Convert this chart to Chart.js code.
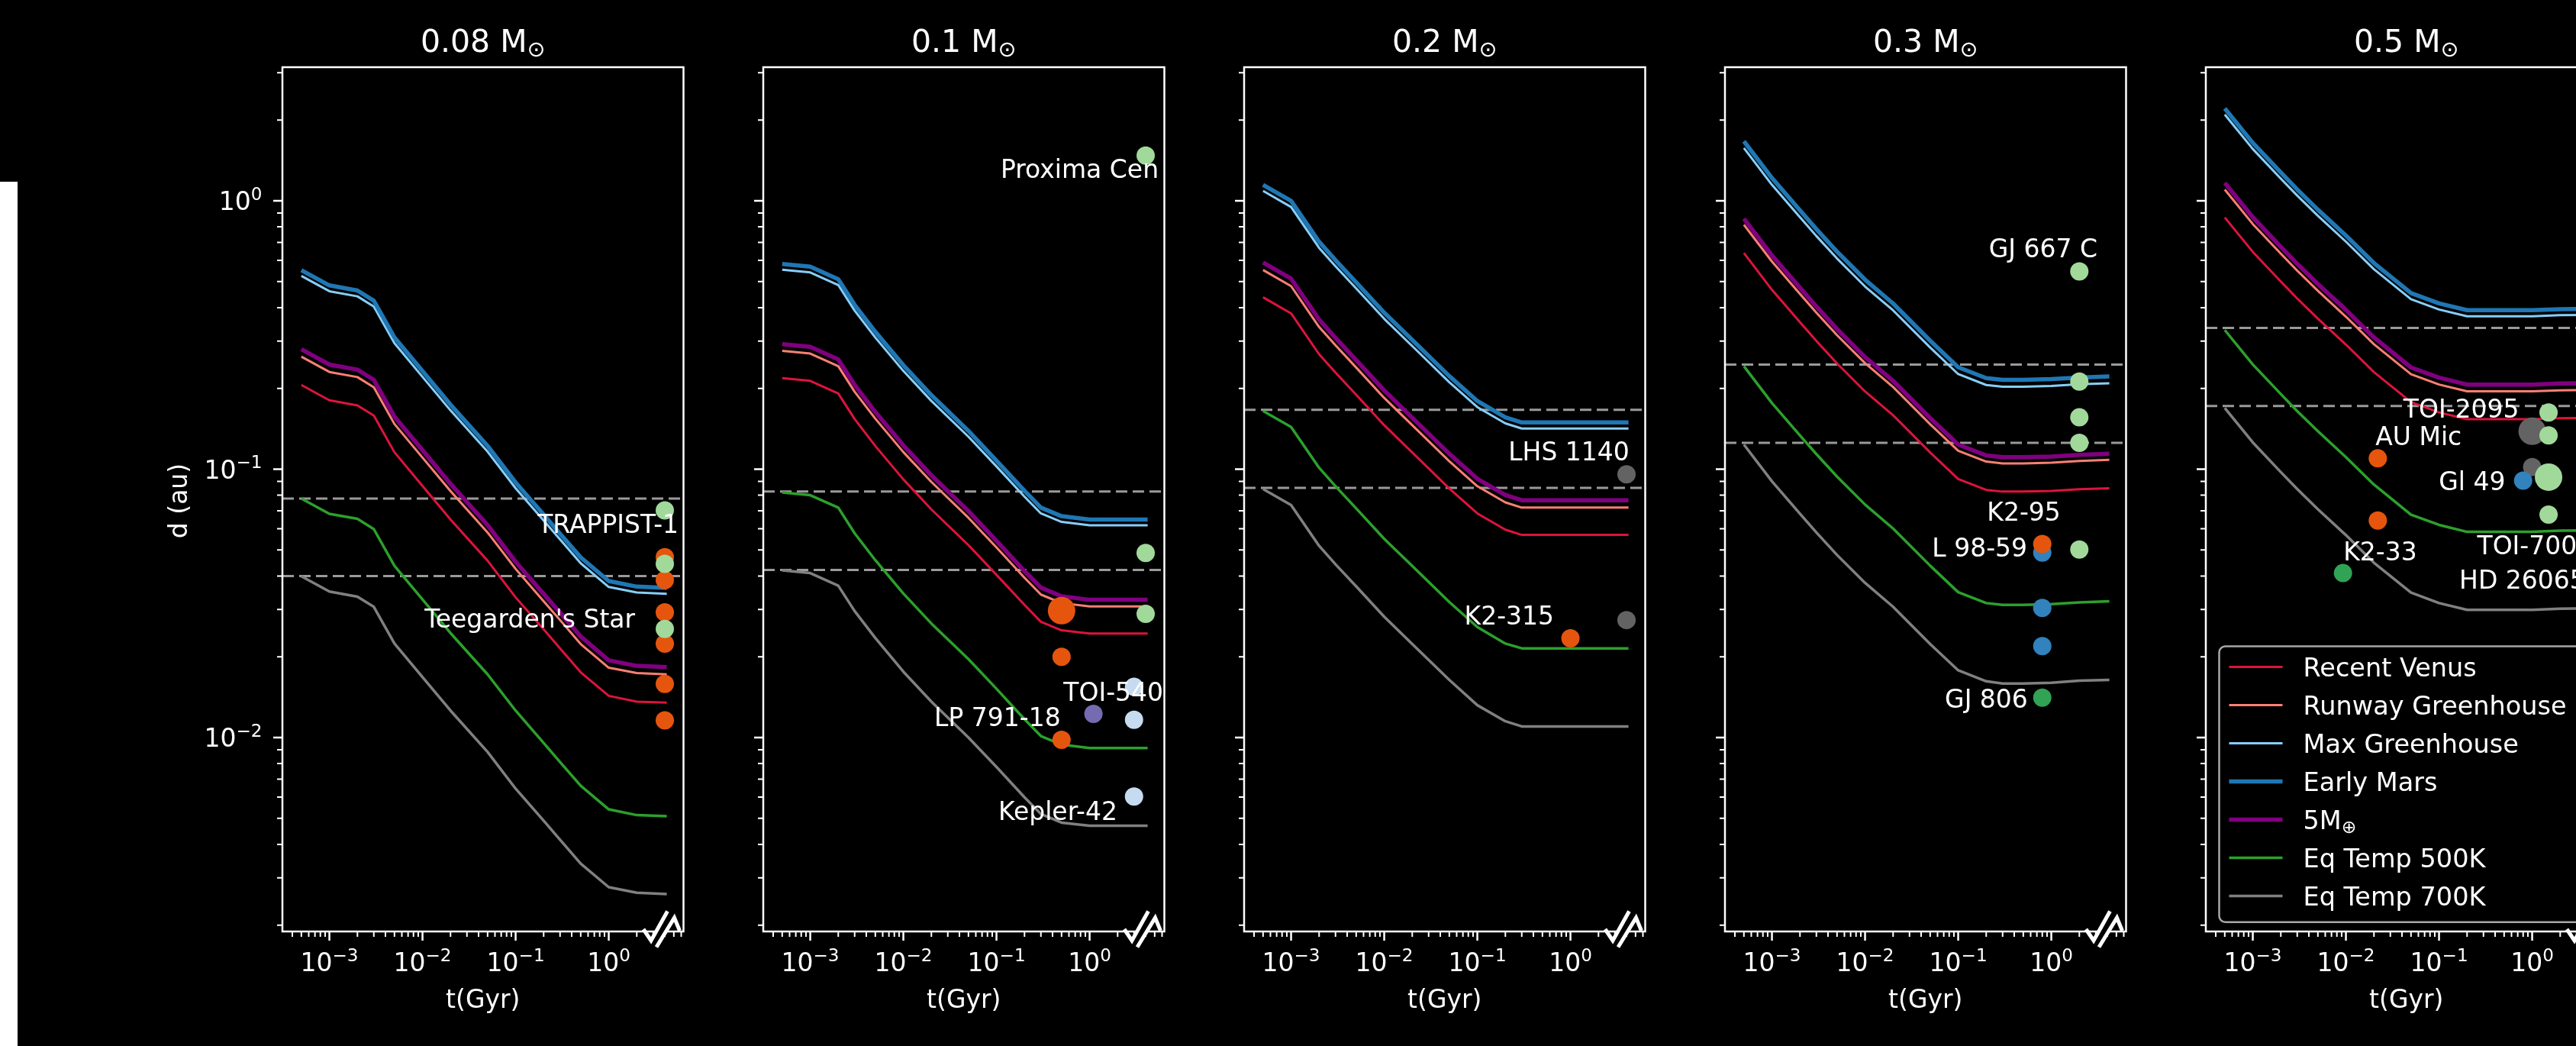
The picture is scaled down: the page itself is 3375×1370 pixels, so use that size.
<!DOCTYPE html>
<html>
<head>
<meta charset="utf-8">
<script src="https://cdn.jsdelivr.net/npm/chart.js@4.4.1/dist/chart.umd.min.js"></script>
<style>
  html, body { margin:0; padding:0; background:#000; }
  body { width:3375px; height:1370px; overflow:hidden; position:relative; }
  canvas { position:absolute; top:0; }
  #strip { position:absolute; left:0; top:238px; width:23px; height:1132px; background:#fff; }
</style>
</head>
<body>
<div id="strip"></div>
<script>
// ---------------- DATA ----------------
const TIME_GYR = [0.0005, 0.001, 0.002, 0.003, 0.005, 0.01, 0.02, 0.05, 0.1, 0.2, 0.3, 0.5, 1, 2, 4.2];
const X_TICKS = [0.001, 0.01, 0.1, 1];
const Y_TICKS = [0.01, 0.1, 1];
const PANEL_MASSES = ['0.08', '0.1', '0.2', '0.3', '0.5'];
const SERIES_LABELS = ['Recent Venus', 'Runway Greenhouse', 'Max Greenhouse', 'Early Mars', '5M\u2295', 'Eq Temp 500K', 'Eq Temp 700K'];

// 0.08 Msun
const m008_recentVenus   = [0.2059, 0.1806, 0.1729, 0.1584, 0.1156, 0.0866, 0.0649, 0.0456, 0.0333, 0.0253, 0.0215, 0.0175, 0.0143, 0.0136, 0.0135];
const m008_runaway       = [0.2625, 0.2303, 0.2204, 0.2019, 0.1473, 0.1104, 0.0828, 0.0581, 0.0425, 0.0322, 0.0274, 0.0223, 0.0182, 0.0174, 0.0172];
const m008_maxGreenhouse = [0.5249, 0.4604, 0.4406, 0.4036, 0.2946, 0.2207, 0.1655, 0.1162, 0.0849, 0.0644, 0.0547, 0.0446, 0.0364, 0.0347, 0.0343];
const m008_earlyMars     = [0.5516, 0.4839, 0.4631, 0.4242, 0.3096, 0.2320, 0.1739, 0.1221, 0.0892, 0.0677, 0.0575, 0.0469, 0.0383, 0.0365, 0.0361];
const m008_fiveME        = [0.2798, 0.2454, 0.2349, 0.2152, 0.1570, 0.1177, 0.0882, 0.0619, 0.0452, 0.0343, 0.0292, 0.0238, 0.0194, 0.0185, 0.0183];
const m008_teq500        = [0.0777, 0.0682, 0.0653, 0.0598, 0.0436, 0.0327, 0.0245, 0.0172, 0.0126, 0.00954, 0.00810, 0.00661, 0.00540, 0.00514, 0.00509];
const m008_teq700        = [0.0399, 0.0350, 0.0335, 0.0307, 0.0224, 0.0168, 0.0126, 0.00884, 0.00645, 0.00490, 0.00416, 0.00339, 0.00277, 0.00264, 0.00261];
const m008_dash = [0.0777, 0.0400];
const m008_ptT = [4, 4, 4, 4, 4, 4, 4, 4, 4];
const m008_ptD = [0.0470, 0.0386, 0.0293, 0.0224, 0.01585, 0.01158, 0.0702, 0.0444, 0.0254];
const m008_ptType = ['o', 'o', 'o', 'o', 'o', 'o', 'g', 'g', 'g'];
const m008_ptBig = [0, 0, 0, 0, 0, 0, 0, 0, 0];
const m008_lblText = ['TRAPPIST-1', "Teegarden's Star"];
const m008_lblT = [5.62, 1.92];
const m008_lblD = [0.0612, 0.0272];

// 0.1 Msun
const m01_recentVenus   = [0.2183, 0.2133, 0.1915, 0.1537, 0.1220, 0.0916, 0.0708, 0.0521, 0.0404, 0.0312, 0.0270, 0.0251, 0.0244, 0.0244, 0.0244];
const m01_runaway       = [0.2760, 0.2696, 0.2420, 0.1943, 0.1542, 0.1158, 0.0896, 0.0659, 0.0511, 0.0394, 0.0341, 0.0317, 0.0308, 0.0308, 0.0308];
const m01_maxGreenhouse = [0.5537, 0.5408, 0.4855, 0.3898, 0.3093, 0.2323, 0.1796, 0.1321, 0.1024, 0.0790, 0.0684, 0.0636, 0.0618, 0.0618, 0.0618];
const m01_earlyMars     = [0.5816, 0.5681, 0.5100, 0.4095, 0.3249, 0.2440, 0.1887, 0.1388, 0.1076, 0.0830, 0.0719, 0.0668, 0.0649, 0.0649, 0.0649];
const m01_fiveME        = [0.2925, 0.2858, 0.2565, 0.2060, 0.1634, 0.1227, 0.0949, 0.0698, 0.0541, 0.0417, 0.0362, 0.0336, 0.0326, 0.0326, 0.0326];
const m01_teq500        = [0.0819, 0.0800, 0.0719, 0.0577, 0.0458, 0.0344, 0.0266, 0.0196, 0.0152, 0.0117, 0.01013, 0.00941, 0.00914, 0.00914, 0.00914];
const m01_teq700        = [0.0420, 0.0410, 0.0368, 0.0296, 0.0235, 0.0176, 0.0136, 0.0100, 0.00777, 0.00599, 0.00519, 0.00482, 0.00469, 0.00469, 0.00469];
const m01_dash = [0.0825, 0.0421];
const m01_ptT = [4, 4, 4, 0.5, 0.5, 3, 1.1, 3, 0.5, 3];
const m01_ptD = [1.474, 0.0487, 0.0289, 0.0297, 0.0200, 0.01545, 0.01225, 0.01165, 0.0098, 0.00603];
const m01_ptType = ['g', 'g', 'g', 'o', 'o', 'lb', 'p', 'lb', 'o', 'lb'];
const m01_ptBig = [0, 0, 0, 1, 0, 0, 0, 0, 0, 0];
const m01_lblText = ['Proxima Cen', 'TOI-540', 'LP 791-18', 'Kepler-42'];
const m01_lblT = [5.52, 6.18, 0.489, 1.99];
const m01_lblD = [1.289, 0.01449, 0.01165, 0.00522];

// 0.2 Msun
const m02_recentVenus   = [0.4370, 0.3806, 0.2680, 0.2289, 0.1893, 0.1458, 0.1154, 0.0847, 0.0684, 0.0595, 0.0569, 0.0569, 0.0569, 0.0569, 0.0569];
const m02_runaway       = [0.5523, 0.4810, 0.3387, 0.2893, 0.2392, 0.1843, 0.1458, 0.1070, 0.0864, 0.0752, 0.0719, 0.0719, 0.0719, 0.0719, 0.0719];
const m02_maxGreenhouse = [1.0885, 0.9481, 0.6676, 0.5702, 0.4715, 0.3633, 0.2875, 0.2109, 0.1703, 0.1481, 0.1417, 0.1417, 0.1417, 0.1417, 0.1417];
const m02_earlyMars     = [1.147, 0.999, 0.7035, 0.6008, 0.4968, 0.3828, 0.3029, 0.2222, 0.1795, 0.1561, 0.1493, 0.1493, 0.1493, 0.1493, 0.1493];
const m02_fiveME        = [0.5888, 0.5128, 0.3611, 0.3084, 0.2550, 0.1965, 0.1555, 0.1141, 0.0921, 0.0801, 0.0766, 0.0766, 0.0766, 0.0766, 0.0766];
const m02_teq500        = [0.1649, 0.1437, 0.1012, 0.0864, 0.0714, 0.0550, 0.0436, 0.0320, 0.0258, 0.0224, 0.0215, 0.0215, 0.0215, 0.0215, 0.0215];
const m02_teq700        = [0.0844, 0.0735, 0.0518, 0.0442, 0.0366, 0.0282, 0.0223, 0.0164, 0.0132, 0.0115, 0.0110, 0.0110, 0.0110, 0.0110, 0.0110];
const m02_dash = [0.1663, 0.0852];
const m02_ptT = [4, 1.0, 4];
const m02_ptD = [0.0957, 0.02345, 0.0274];
const m02_ptType = ['k', 'o', 'k'];
const m02_ptBig = [0, 0, 0];
const m02_lblText = ['LHS 1140', 'K2-315'];
const m02_lblT = [4.3, 0.667];
const m02_lblD = [0.1138, 0.02797];

// 0.3 Msun
const m03_recentVenus   = [0.6390, 0.4661, 0.3530, 0.3005, 0.2477, 0.1948, 0.1588, 0.1154, 0.0919, 0.0837, 0.0825, 0.0825, 0.0830, 0.0842, 0.0849];
const m03_runaway       = [0.8143, 0.5940, 0.4499, 0.3830, 0.3157, 0.2483, 0.2024, 0.1471, 0.1171, 0.1067, 0.1051, 0.1051, 0.1058, 0.1073, 0.1083];
const m03_maxGreenhouse = [1.572, 1.147, 0.8685, 0.7393, 0.6095, 0.4793, 0.3907, 0.2840, 0.2261, 0.2059, 0.2029, 0.2029, 0.2042, 0.2071, 0.2090];
const m03_earlyMars     = [1.667, 1.216, 0.921, 0.784, 0.6463, 0.5083, 0.4143, 0.3012, 0.2398, 0.2184, 0.2152, 0.2152, 0.2165, 0.2196, 0.2216];
const m03_fiveME        = [0.8585, 0.6262, 0.4743, 0.4038, 0.3328, 0.2618, 0.2134, 0.1551, 0.1235, 0.1125, 0.1108, 0.1108, 0.1115, 0.1131, 0.1141];
const m03_teq500        = [0.2419, 0.1764, 0.1336, 0.1138, 0.0938, 0.0738, 0.0601, 0.0437, 0.0348, 0.0317, 0.0312, 0.0312, 0.0314, 0.0319, 0.0322];
const m03_teq700        = [0.1235, 0.0901, 0.0682, 0.0581, 0.0479, 0.0377, 0.0307, 0.0223, 0.0178, 0.0162, 0.0159, 0.0159, 0.0160, 0.0163, 0.0164];
const m03_dash = [0.2455, 0.1253];
const m03_ptT = [2, 2, 2, 2, 0.8, 0.8, 0.8, 0.8, 2, 0.8];
const m03_ptD = [0.5455, 0.2121, 0.156, 0.1253, 0.0489, 0.0304, 0.02192, 0.0526, 0.0502, 0.01409];
const m03_ptType = ['g', 'g', 'g', 'g', 'b', 'b', 'b', 'o', 'g', 'dg'];
const m03_ptBig = [0, 0, 0, 0, 0, 0, 0, 0, 0, 0];
const m03_lblText = ['GJ 667 C', 'K2-95', 'L 98-59', 'GJ 806'];
const m03_lblT = [3.13, 1.26, 0.552, 0.56];
const m03_lblD = [0.6536, 0.0682, 0.0499, 0.0137];

// 0.5 Msun
const m05_recentVenus   = [0.8668, 0.6451, 0.5003, 0.4324, 0.3637, 0.2913, 0.2300, 0.1778, 0.1628, 0.1535, 0.1535, 0.1535, 0.1535, 0.1549, 0.1553];
const m05_runaway       = [1.101, 0.8194, 0.6355, 0.5492, 0.4619, 0.3700, 0.2921, 0.2258, 0.2067, 0.1950, 0.1950, 0.1950, 0.1950, 0.1968, 0.1973];
const m05_maxGreenhouse = [2.096, 1.560, 1.210, 1.046, 0.8795, 0.7044, 0.5562, 0.4299, 0.3936, 0.3712, 0.3712, 0.3712, 0.3712, 0.3747, 0.3756];
const m05_earlyMars     = [2.209, 1.644, 1.275, 1.102, 0.9268, 0.7423, 0.5861, 0.4530, 0.4148, 0.3912, 0.3912, 0.3912, 0.3912, 0.3948, 0.3958];
const m05_fiveME        = [1.167, 0.8687, 0.6737, 0.5823, 0.4897, 0.3922, 0.3097, 0.2394, 0.2192, 0.2067, 0.2067, 0.2067, 0.2067, 0.2086, 0.2091];
const m05_teq500        = [0.3300, 0.2456, 0.1905, 0.1646, 0.1385, 0.1109, 0.0876, 0.0677, 0.0620, 0.0584, 0.0584, 0.0584, 0.0584, 0.0590, 0.0591];
const m05_teq700        = [0.1690, 0.1258, 0.0975, 0.0843, 0.0709, 0.0568, 0.0448, 0.0347, 0.0317, 0.0299, 0.0299, 0.0299, 0.0299, 0.0302, 0.0303];
const m05_dash = [0.336, 0.172];
const m05_ptT = [1.5, 1.0, 1.5, 0.022, 1.0, 0.8, 1.5, 1.5, 0.022, 0.0093];
const m05_ptD = [0.1627, 0.1385, 0.1337, 0.1097, 0.1019, 0.0907, 0.0934, 0.0677, 0.0644, 0.041];
const m05_ptType = ['g', 'k', 'g', 'o', 'k', 'b', 'g', 'g', 'o', 'dg'];
const m05_ptBig = [0, 1, 0, 0, 0, 0, 1, 0, 0, 0];
const m05_lblText = ['TOI-2095', 'AU Mic', 'Gl 49', 'K2-33', 'TOI-700', 'HD 260655'];
const m05_lblT = [0.726, 0.175, 0.515, 0.058, 0.2566, 0.165];
const m05_lblD = [0.165, 0.1299, 0.0881, 0.0483, 0.0511, 0.0380];
const m05_lblAlign = ['right', 'right', 'right', 'right', 'left', 'left'];

// ---------------- STYLE / LAYOUT ----------------
const FONT = '"DejaVu Sans", Verdana, sans-serif';
const X_MIN = 3.13e-4, X_MAX = 6.35, Y_MIN = 0.001894, Y_MAX = 3.147;
const AX_W = 200, PLOT_W = 525.5, CANVAS_W = 760, CANVAS_H = 1370;
const PANEL_LEFT = [370, 1000, 1630, 2260, 2889.5];
const SERIES_STYLE = [
  { color: '#dc143c', width: 3 },
  { color: '#fa8072', width: 3 },
  { color: '#87cefa', width: 3 },
  { color: '#1f77b4', width: 5.5 },
  { color: '#800080', width: 5.5 },
  { color: '#2ca02c', width: 3.5 },
  { color: '#808080', width: 3.5 }
];
const PT_COLORS = { o: '#e6550d', g: '#a1d99b', b: '#3182bd', lb: '#c6dbef', p: '#756bb1', dg: '#31a354', k: '#636363' };

const panels = [
  { mass: PANEL_MASSES[0], series: [m008_recentVenus, m008_runaway, m008_maxGreenhouse, m008_earlyMars, m008_fiveME, m008_teq500, m008_teq700],
    dash: m008_dash, ptT: m008_ptT, ptD: m008_ptD, ptType: m008_ptType, ptBig: m008_ptBig, lblText: m008_lblText, lblT: m008_lblT, lblD: m008_lblD },
  { mass: PANEL_MASSES[1], series: [m01_recentVenus, m01_runaway, m01_maxGreenhouse, m01_earlyMars, m01_fiveME, m01_teq500, m01_teq700],
    dash: m01_dash, ptT: m01_ptT, ptD: m01_ptD, ptType: m01_ptType, ptBig: m01_ptBig, lblText: m01_lblText, lblT: m01_lblT, lblD: m01_lblD },
  { mass: PANEL_MASSES[2], series: [m02_recentVenus, m02_runaway, m02_maxGreenhouse, m02_earlyMars, m02_fiveME, m02_teq500, m02_teq700],
    dash: m02_dash, ptT: m02_ptT, ptD: m02_ptD, ptType: m02_ptType, ptBig: m02_ptBig, lblText: m02_lblText, lblT: m02_lblT, lblD: m02_lblD },
  { mass: PANEL_MASSES[3], series: [m03_recentVenus, m03_runaway, m03_maxGreenhouse, m03_earlyMars, m03_fiveME, m03_teq500, m03_teq700],
    dash: m03_dash, ptT: m03_ptT, ptD: m03_ptD, ptType: m03_ptType, ptBig: m03_ptBig, lblText: m03_lblText, lblT: m03_lblT, lblD: m03_lblD },
  { mass: PANEL_MASSES[4], series: [m05_recentVenus, m05_runaway, m05_maxGreenhouse, m05_earlyMars, m05_fiveME, m05_teq500, m05_teq700],
    dash: m05_dash, ptT: m05_ptT, ptD: m05_ptD, ptType: m05_ptType, ptBig: m05_ptBig, lblText: m05_lblText, lblT: m05_lblT, lblD: m05_lblD, lblAlign: m05_lblAlign }
];

function minorVals(min, max) {
  const out = [];
  for (let e = -5; e <= 1; e++) for (let m = 2; m <= 9; m++) {
    const v = m * Math.pow(10, e);
    if (v >= min && v <= max) out.push(v);
  }
  return out;
}

function drawSub(ctx, main, sub, x, y, size, align) {
  ctx.textBaseline = 'alphabetic'; ctx.textAlign = 'left';
  ctx.font = size + 'px ' + FONT; const w1 = ctx.measureText(main).width;
  const ss = size * 0.7;
  ctx.font = ss + 'px ' + FONT; const w2 = ctx.measureText(sub).width;
  const tot = w1 + w2;
  const x0 = align === 'center' ? x - tot / 2 : (align === 'right' ? x - tot : x);
  ctx.font = size + 'px ' + FONT; ctx.fillText(main, x0, y);
  ctx.font = ss + 'px ' + FONT; ctx.fillText(sub, x0 + w1, y + size * 0.15);
}

function drawPow(ctx, e, x, y, size, align) {
  const sup = e < 0 ? '\u2212' + (-e) : String(e);
  ctx.textBaseline = 'alphabetic'; ctx.textAlign = 'left';
  ctx.font = size + 'px ' + FONT; const w1 = ctx.measureText('10').width;
  const ss = size * 0.7;
  ctx.font = ss + 'px ' + FONT; const w2 = ctx.measureText(sup).width;
  const tot = w1 + w2;
  const x0 = align === 'center' ? x - tot / 2 : (align === 'right' ? x - tot : x);
  ctx.font = size + 'px ' + FONT; ctx.fillText('10', x0, y);
  ctx.font = ss + 'px ' + FONT; ctx.fillText(sup, x0 + w1, y - size * 0.4);
}

function roundRectPath(ctx, x, y, w, h, r) {
  ctx.beginPath();
  ctx.moveTo(x + r, y);
  ctx.lineTo(x + w - r, y); ctx.arcTo(x + w, y, x + w, y + r, r);
  ctx.lineTo(x + w, y + h - r); ctx.arcTo(x + w, y + h, x + w - r, y + h, r);
  ctx.lineTo(x + r, y + h); ctx.arcTo(x, y + h, x, y + h - r, r);
  ctx.lineTo(x, y + r); ctx.arcTo(x, y, x + r, y, r);
  ctx.closePath();
}

function drawLegend(ctx, a) {
  const lx = a.left + 17.5, top = 846.6, bot = 1207.7;
  ctx.font = '33.5px ' + FONT;
  let maxW = 0;
  SERIES_LABELS.forEach(s => { maxW = Math.max(maxW, ctx.measureText(s).width); });
  const w = 110 + maxW + 30;
  roundRectPath(ctx, lx, top, w, bot - top, 8);
  ctx.fillStyle = 'rgba(0,0,0,0.8)'; ctx.fill();
  ctx.strokeStyle = '#a8a8a8'; ctx.lineWidth = 2.5; ctx.stroke();
  SERIES_LABELS.forEach((s, i) => {
    const yy = 873.5 + 50 * i;
    ctx.strokeStyle = SERIES_STYLE[i].color; ctx.lineWidth = SERIES_STYLE[i].width;
    ctx.beginPath(); ctx.moveTo(lx + 13, yy); ctx.lineTo(lx + 83, yy); ctx.stroke();
    ctx.fillStyle = '#fff';
    if (s.endsWith('\u2295')) {
      drawSub(ctx, s.slice(0, -1), '\u2295', lx + 110, yy + 12, 33.5, 'left');
    } else {
      ctx.textAlign = 'left'; ctx.textBaseline = 'alphabetic'; ctx.font = '33.5px ' + FONT;
      ctx.fillText(s, lx + 110, yy + 12);
    }
  });
}

function drawBreak(ctx, a) {
  // zig-zag axis-break marker near the right end of the time axis
  const bx = a.left, by = a.bottom;
  ctx.fillStyle = '#000';
  ctx.beginPath();
  ctx.moveTo(bx + 486, by + 8); ctx.lineTo(bx + 505, by - 26);
  ctx.lineTo(bx + 512, by - 20); ctx.lineTo(bx + 492, by + 16);
  ctx.closePath(); ctx.fill();
  ctx.strokeStyle = '#fff'; ctx.lineWidth = 5; ctx.lineJoin = 'miter'; ctx.lineCap = 'butt';
  ctx.beginPath();
  ctx.moveTo(bx + 473, by - 3); ctx.lineTo(bx + 483, by + 12); ctx.lineTo(bx + 504.5, by - 26.5);
  ctx.moveTo(bx + 490, by + 20.5); ctx.lineTo(bx + 513.5, by - 18); ctx.lineTo(bx + 520.5, by - 1);
  ctx.stroke();
}

function decorPlugin(p, idx) {
  return {
    id: 'decor' + idx,
    afterDatasetsDraw(chart) {
      const ctx = chart.ctx, a = chart.chartArea, x = chart.scales.x, y = chart.scales.y;
      ctx.save();
      // annotations
      ctx.fillStyle = '#fff';
      ctx.font = '33px ' + FONT;
      ctx.textBaseline = 'middle';
      p.lblText.forEach((txt, i) => {
        ctx.textAlign = (p.lblAlign && p.lblAlign[i]) || 'right';
        ctx.fillText(txt, x.getPixelForValue(p.lblT[i]), y.getPixelForValue(p.lblD[i]));
      });
      // frame
      ctx.strokeStyle = '#fff'; ctx.lineWidth = 2.5;
      ctx.strokeRect(a.left, a.top, a.right - a.left, a.bottom - a.top);
      // major ticks
      ctx.beginPath();
      X_TICKS.forEach(v => { const px = x.getPixelForValue(v); ctx.moveTo(px, a.bottom); ctx.lineTo(px, a.bottom + 12); });
      Y_TICKS.forEach(v => { const py = y.getPixelForValue(v); ctx.moveTo(a.left, py); ctx.lineTo(a.left - 12, py); });
      ctx.stroke();
      // minor ticks
      ctx.lineWidth = 2;
      ctx.beginPath();
      minorVals(X_MIN, X_MAX).forEach(v => { const px = x.getPixelForValue(v); ctx.moveTo(px, a.bottom); ctx.lineTo(px, a.bottom + 7); });
      minorVals(Y_MIN, Y_MAX).forEach(v => { const py = y.getPixelForValue(v); ctx.moveTo(a.left, py); ctx.lineTo(a.left - 7, py); });
      ctx.stroke();
      drawBreak(ctx, a);
      // tick labels
      ctx.fillStyle = '#fff';
      X_TICKS.forEach(v => drawPow(ctx, Math.round(Math.log10(v)), x.getPixelForValue(v), 1272, 33, 'center'));
      if (idx === 0) Y_TICKS.forEach(v => drawPow(ctx, Math.round(Math.log10(v)), a.left - 26.5, y.getPixelForValue(v) + 12, 33, 'right'));
      // axis titles
      ctx.font = '33px ' + FONT; ctx.textAlign = 'center'; ctx.textBaseline = 'alphabetic';
      ctx.fillText('t(Gyr)', (a.left + a.right) / 2, 1320);
      if (idx === 0) {
        ctx.save(); ctx.translate(a.left - 134, 656); ctx.rotate(-Math.PI / 2);
        ctx.textBaseline = 'middle'; ctx.fillText('d (au)', 0, 0); ctx.restore();
      }
      // panel title
      drawSub(ctx, p.mass + ' M', '\u2299', (a.left + a.right) / 2, 68.3, 41, 'center');
      if (idx === 4) drawLegend(ctx, a);
      ctx.restore();
    }
  };
}

panels.forEach((p, idx) => {
  const cv = document.createElement('canvas');
  cv.width = CANVAS_W; cv.height = CANVAS_H;
  cv.style.left = (PANEL_LEFT[idx] - AX_W) + 'px';
  cv.style.width = CANVAS_W + 'px'; cv.style.height = CANVAS_H + 'px';
  document.body.appendChild(cv);

  const datasets = [];
  datasets.push({
    data: p.ptT.map((t, i) => ({ x: t, y: p.ptD[i] })),
    pointBackgroundColor: p.ptType.map(c => PT_COLORS[c]),
    pointBorderWidth: 0,
    pointRadius: p.ptBig.map(b => (b ? 18 : 12)),
    pointHoverRadius: p.ptBig.map(b => (b ? 18 : 12)),
    showLine: false,
    order: 0
  });
  SERIES_LABELS.forEach((name, k) => {
    datasets.push({
      label: name,
      data: TIME_GYR.map((t, i) => ({ x: t, y: p.series[k][i] })),
      borderColor: SERIES_STYLE[k].color,
      borderWidth: SERIES_STYLE[k].width,
      showLine: true, pointRadius: 0, tension: 0, fill: false,
      borderJoinStyle: 'round',
      order: 10 + (6 - k)
    });
  });
  p.dash.forEach(v => {
    datasets.push({
      data: [{ x: X_MIN, y: v }, { x: X_MAX, y: v }],
      borderColor: '#9a9a9a', borderWidth: 3, borderDash: [15, 7],
      showLine: true, pointRadius: 0, fill: false, order: 30
    });
  });

  new Chart(cv, {
    type: 'scatter',
    data: { datasets },
    options: {
      responsive: false, animation: false, devicePixelRatio: 1,
      layout: { padding: { left: 0, right: CANVAS_W - AX_W - PLOT_W, top: 88, bottom: 40 } },
      plugins: { legend: { display: false }, tooltip: { enabled: false } },
      events: [],
      scales: {
        x: {
          type: 'logarithmic', min: X_MIN, max: X_MAX, bounds: 'data', position: 'bottom',
          grid: { display: false, drawTicks: false }, border: { display: false },
          ticks: { display: false },
          afterFit: s => { s.height = 110; }
        },
        y: {
          type: 'logarithmic', min: Y_MIN, max: Y_MAX, bounds: 'data', position: 'left',
          grid: { display: false, drawTicks: false }, border: { display: false },
          ticks: { display: false },
          afterFit: s => { s.width = AX_W; }
        }
      }
    },
    plugins: [decorPlugin(p, idx)]
  });
});
</script>
</body>
</html>
